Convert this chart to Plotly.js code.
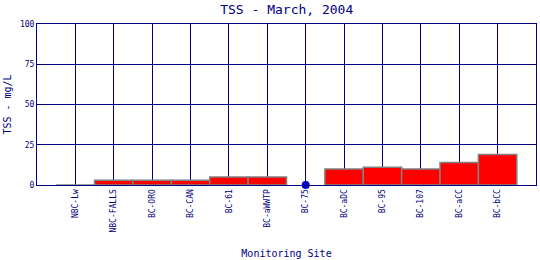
<!DOCTYPE html>
<html>
<head>
<meta charset="utf-8">
<script src="https://cdn.plot.ly/plotly-3.0.1.min.js"></script>
<style>
html,body{margin:0;padding:0;background:#fff;}
#chart{width:540px;height:260px;}
</style>
</head>
<body>
<div id="chart"></div>
<script>
var sites = ["NBC-Lw","NBC-FALLS","BC-ORO","BC-CAN","BC-61","BC-aWWTP","BC-75","BC-aDC","BC-95","BC-107","BC-aCC","BC-bCC"];
var tssValues = [0, 3, 3, 3, 5, 5, null, 10, 11, 10, 14, 19];
var pointSites = ["BC-75"];
var pointValues = [0];
var yTicks = [0, 25, 50, 75, 100];

var navy = "#000080";
var font = "DejaVu Sans Mono, Liberation Mono, monospace";

var traces = [
  {
    type: "bar",
    x: sites,
    y: tssValues,
    width: 1,
    marker: {color: "#ff0000", line: {color: "#808080", width: 1.5}},
    hoverinfo: "x+y"
  },
  {
    type: "scatter",
    mode: "markers",
    x: pointSites,
    y: pointValues,
    marker: {color: "#0000cc", size: 8},
    cliponaxis: false
  }
];

var layout = {
  width: 540, height: 260,
  margin: {l: 37, r: 4, t: 24, b: 75, pad: 0},
  paper_bgcolor: "#ffffff",
  plot_bgcolor: "#ffffff",
  showlegend: false,
  bargap: 0,
  title: {text: "TSS - March, 2004", font: {family: font, size: 13, color: navy}, x: 0.531, xanchor: "center", y: 0.965, yanchor: "middle"},
  xaxis: {
    type: "category",
    categoryarray: sites,
    range: [-1, 12],
    showgrid: true, gridcolor: navy, gridwidth: 1,
    showline: true, linecolor: navy, linewidth: 1, mirror: true,
    ticks: "", tickangle: -90,
    tickfont: {family: font, size: 8, color: navy},
    title: {text: "Monitoring Site", font: {family: font, size: 10, color: navy}, standoff: 18},
    zeroline: false,
    fixedrange: true
  },
  yaxis: {
    range: [0, 100],
    tickvals: yTicks,
    ticktext: yTicks.map(String),
    showgrid: true, gridcolor: navy, gridwidth: 1,
    showline: true, linecolor: navy, linewidth: 1, mirror: true,
    ticks: "", ticklen: 2,
    tickfont: {family: font, size: 8, color: navy},
    title: {text: "TSS - mg/L", font: {family: font, size: 10, color: navy}, standoff: 6},
    zeroline: false,
    fixedrange: true
  }
};

Plotly.newPlot("chart", traces, layout, {displayModeBar: false, staticPlot: true});
</script>
</body>
</html>
